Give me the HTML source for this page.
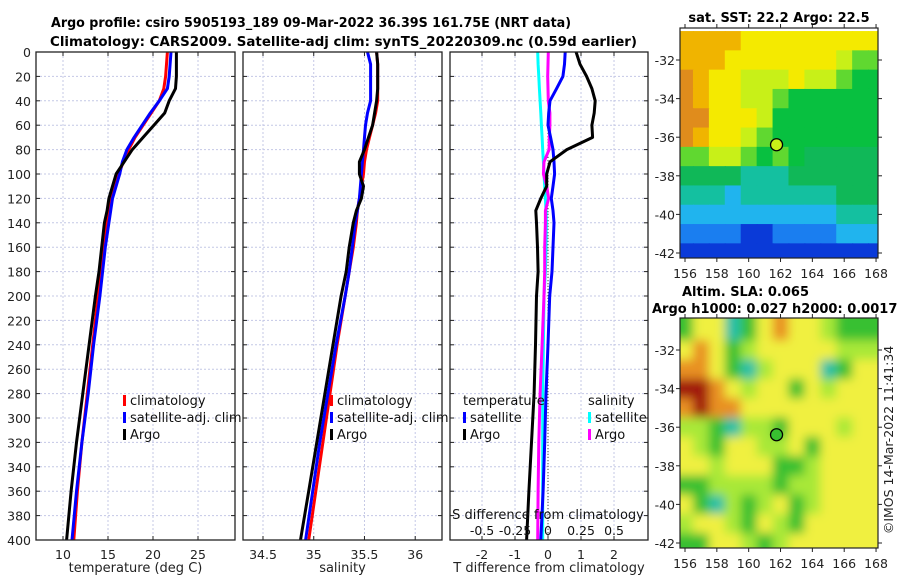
<!DOCTYPE html>
<html><head><meta charset="utf-8">
<style>
html,body{margin:0;padding:0;background:#fff;}
svg{display:block;font-family:"DejaVu Sans","Liberation Sans",sans-serif;}
</style></head>
<body>
<svg id="fig" width="900" height="580" viewBox="0 0 900 580" xmlns="http://www.w3.org/2000/svg">
<defs>
<clipPath id="c1"><rect x="36" y="52" width="199" height="488"/></clipPath>
<clipPath id="c2"><rect x="243" y="52" width="199" height="488"/></clipPath>
<clipPath id="c3"><rect x="450" y="52" width="198" height="488"/></clipPath>
<clipPath id="cm1"><rect x="680" y="28" width="198" height="230"/></clipPath>
<clipPath id="cm2"><rect x="680" y="318" width="198" height="230"/></clipPath>
<filter id="blur" x="-5%" y="-5%" width="110%" height="110%"><feGaussianBlur stdDeviation="5"/></filter>
</defs>
<g font-weight="bold" font-size="13">
<text x="51" y="27" textLength="520" lengthAdjust="spacingAndGlyphs">Argo profile: csiro 5905193_189 09-Mar-2022 36.39S 161.75E (NRT data)</text>
<text x="50" y="46" textLength="587" lengthAdjust="spacingAndGlyphs">Climatology: CARS2009. Satellite-adj clim: synTS_20220309.nc (0.59d earlier)</text>
</g>
<g id="plots"></g>
<g id="maps"></g>
</svg>
<script>
// ---- profile data ----
const depths=[0,10,20,30,40,50,60,70,80,90,100,110,120,130,140,160,180,200,240,280,320,360,400];
const tempClim=[21.6,21.5,21.4,21.2,20.7,19.8,18.9,18.0,17.3,16.7,16.2,15.8,15.4,15.1,14.9,14.5,14.2,13.9,13.3,12.7,12.1,11.6,11.2];
const tempSat=[22.0,21.9,21.8,21.6,20.7,19.7,18.8,17.9,17.1,16.6,16.3,15.9,15.5,15.3,15.1,14.7,14.4,14.1,13.4,12.8,12.1,11.5,11.0];
const tempArgo=[22.6,22.6,22.6,22.5,21.8,21.3,20.1,18.9,17.7,16.8,15.9,15.5,15.1,14.9,14.6,14.3,14.0,13.6,12.9,12.2,11.5,10.9,10.4];
const salClim=[35.62,35.63,35.63,35.63,35.63,35.61,35.58,35.55,35.52,35.50,35.49,35.47,35.45,35.43,35.42,35.39,35.35,35.31,35.23,35.16,35.09,35.02,34.95];
const salSat=[35.53,35.56,35.56,35.56,35.56,35.53,35.51,35.50,35.49,35.48,35.47,35.46,35.45,35.43,35.41,35.38,35.35,35.31,35.22,35.14,35.06,34.99,34.92];
const salArgo=[35.62,35.63,35.63,35.63,35.62,35.60,35.58,35.54,35.50,35.45,35.45,35.49,35.47,35.42,35.39,35.35,35.32,35.27,35.19,35.11,35.03,34.95,34.87];
const tDiffSat=[0.52,0.50,0.45,0.26,0.06,0.02,0.00,0.08,0.15,0.18,0.20,0.15,0.10,0.15,0.18,0.15,0.12,0.05,0.00,-0.06,-0.10,-0.15,-0.22];
const tDiffArgo=[0.85,0.97,1.17,1.33,1.43,1.40,1.33,1.35,0.57,0.06,-0.04,-0.04,-0.22,-0.37,-0.35,-0.32,-0.30,-0.35,-0.38,-0.42,-0.50,-0.58,-0.65];
const sDiffSat=[-0.078,-0.075,-0.07,-0.065,-0.06,-0.055,-0.05,-0.045,-0.04,-0.035,-0.03,-0.025,-0.02,-0.015,-0.013,-0.015,-0.02,-0.03,-0.035,-0.04,-0.04,-0.04,-0.04];
const sDiffArgo=[0.002,0,-0.002,0,0.002,0.014,0.014,0.01,0.008,-0.03,-0.035,-0.01,0.005,-0.02,-0.02,-0.025,-0.025,-0.03,-0.045,-0.06,-0.07,-0.075,-0.078];
const depthTicks=[0,20,40,60,80,100,120,140,160,180,200,220,240,260,280,300,320,340,360,380,400];
const tempTicks=[10,15,20,25];
const salTicks=[34.5,35,35.5,36];
const tDiffTicks=[-2,-1,0,1,2];
const sDiffTicks=[-0.5,-0.25,0,0.25,0.5];
const sDiffTickLabels=["-0.5","-0.25","0","0.25","0.5"];
// ---- map data (1-degree cells, rows lat -31..-42, cols lon 156..168) ----
const mapLats=[-31,-32,-33,-34,-35,-36,-37,-38,-39,-40,-41,-42];
const mapLons=[156,157,158,159,160,161,162,163,164,165,166,167,168];
const sstGrid=[
[8,8,8,8,7,7,7,7,7,7,7,7,7],
[8,8,8,7.5,7,7,7,7,7,7,6,5,5],
[8.5,8,7.5,7,6.5,6,6.5,7,6.5,6,5,4.5,4.5],
[8.5,8,7.5,7,6.5,6,5,4.5,4.5,4.5,4.5,4.5,4.5],
[8.5,8.5,7.5,7,7,6,4.5,4.5,4.5,4.5,4.5,4.5,4.5],
[8.5,8,7,7,6.5,5,4.5,4.5,4.5,4.5,4.5,4.5,4.5],
[5,5,6,6.5,5,4.5,5,4.5,4,4,4,4,4],
[4,4,4,4,3.5,3.5,3.5,4,4,4,4,4,4],
[3.5,3.5,3.5,3,3.5,3.5,3.5,3.5,3.5,3.5,4,4,4],
[3,3,3,3,3,3,3,3,3,3,3.5,3.5,3.5],
[2.5,2.5,2.5,2.5,2,2,2.5,2.5,2.5,2.5,3,3,3],
[1.5,1.5,1.5,1.5,1.5,1.5,2,2,2,2,2,2,2]];
const slaGrid=[
[1,3,3,0,1,3,4,3,3,2,1,1,1],
[3,4,3,1,2,3,3,3,3,3,2,2,2],
[4,4,3,1,0,2,3,3,3,0,1,3,3],
[5,5,4,3,2,3,3,1,3,2,3,3,3],
[4,5,4,4,3,3,3,3,3,3,3,3,3],
[2,2,1,0,2,2,1,3,3,3,2,3,3],
[3,2,1,3,3,2,2,3,1,3,3,3,3],
[3,3,2,3,3,3,1,1,2,3,3,3,3],
[1,1,2,2,2,2,1,2,2,3,3,3,3],
[3,1,0,2,1,2,3,1,2,3,3,3,3],
[2,3,3,2,1,3,2,1,3,3,3,3,3],
[1,1,3,3,2,1,2,3,3,3,3,3,3]];
const latTicks=[-32,-34,-36,-38,-40,-42];
const lonTicks=[156,158,160,162,164,166,168];
const argoLon=161.75, argoLat=-36.39;

const NS='http://www.w3.org/2000/svg';
function mk(tag,attrs,parent,txt){const e=document.createElementNS(NS,tag);for(const k in attrs)e.setAttribute(k,attrs[k]);if(txt!==undefined)e.textContent=txt;parent.appendChild(e);return e;}
const plots=document.getElementById('plots');
const Y0=52,Y1=540;
const yD=d=>Y0+d*(Y1-Y0)/400;

function panel(name,x0,x1,xmin,xmax,ticks,tickLabels,clip,xlabel){
  const g=mk('g',{},plots);
  
  
  const sx=v=>x0+(v-xmin)*(x1-x0)/(xmax-xmin);
  depthTicks.forEach(d=>{const l=mk('line',{x1:x0,x2:x1,y1:yD(d),y2:yD(d),stroke:'#c4c8e6','stroke-width':1,'stroke-dasharray':'2,2'},g);});
  ticks.forEach((t,i)=>{const l=mk('line',{x1:sx(t),x2:sx(t),y1:Y0,y2:Y1,stroke:'#c4c8e6','stroke-width':1,'stroke-dasharray':'2,2'},g);
    const tx=mk('text',{x:sx(t),y:Y1+19,'font-size':12.5,'text-anchor':'middle',fill:'#222'},g,tickLabels?tickLabels[i]:String(t));
    mk('line',{x1:sx(t),x2:sx(t),y1:Y1,y2:Y1-4,stroke:'#222'},g);mk('line',{x1:sx(t),x2:sx(t),y1:Y0,y2:Y0+4,stroke:'#222'},g);});
  depthTicks.forEach(d=>{mk('line',{x1:x0,x2:x0+4,y1:yD(d),y2:yD(d),stroke:'#222'},g);mk('line',{x1:x1,x2:x1-4,y1:yD(d),y2:yD(d),stroke:'#222'},g);});
  const xl=mk('text',{x:(x0+x1)/2,y:572,'font-size':13,'text-anchor':'middle',fill:'#222'},g,xlabel);
  
  const lines=mk('g',{'clip-path':'url(#'+clip+')'},g);
  const fr=mk('rect',{x:x0,y:Y0,width:x1-x0,height:Y1-Y0,fill:'none',stroke:'#222','stroke-width':1.3},g);
  
  return {g,lines,sx};
}
function series(p,vals,color,name,sx,w){
  const pts=vals.map((v,i)=>(sx||p.sx)(v).toFixed(1)+','+yD(depths[i]).toFixed(1)).join(' ');
  const pl=mk('polyline',{points:pts,fill:'none',stroke:color,'stroke-width':w||3,'stroke-linejoin':'round'},p.lines);
  
  
}
function legend(p,x,y,items){
  items.forEach((it,i)=>{
    if(it.color){const r=mk('rect',{x:x,y:y+i*17-5,width:3,height:11,fill:it.color},p.g);}
    const t=mk('text',{x:x+(it.color?7:0),y:y+i*17+5,'font-size':13,fill:'#111'},p.g,it.label);
    
    
  });
}
depthTicks.forEach(d=>{const t=mk('text',{x:31,y:yD(d)+5,'font-size':12.5,'text-anchor':'end',fill:'#222'},plots,String(d));});

const p1=panel('temperature-panel',36,235,7,29.11,tempTicks,null,'c1','temperature (deg C)');
series(p1,tempClim,'#f00','temp-climatology-line');
series(p1,tempSat,'#00f','temp-satellite-line');
series(p1,tempArgo,'#000','temp-argo-line');
legend(p1,123,400,[{color:'#f00',label:'climatology'},{color:'#00f',label:'satellite-adj. clim'},{color:'#000',label:'Argo'}]);

const p2=panel('salinity-panel',243,442,34.303,36.264,salTicks,null,'c2','salinity');
series(p2,salClim,'#f00','sal-climatology-line');
series(p2,salSat,'#00f','sal-satellite-line');
series(p2,salArgo,'#000','sal-argo-line');
legend(p2,330,400,[{color:'#f00',label:'climatology'},{color:'#00f',label:'satellite-adj. clim'},{color:'#000',label:'Argo'}]);

const p3=panel('difference-panel',450,648,-2.97,3.03,tDiffTicks,null,'c3','T difference from climatology');
const zl=mk('line',{x1:p3.sx(0),x2:p3.sx(0),y1:Y0,y2:Y1,stroke:'#444','stroke-width':1,'stroke-dasharray':'1,2'},p3.lines);

const sxS=v=>p3.sx(v*4);
series(p3,sDiffSat,'#00ffff','sdiff-satellite-line',sxS);
series(p3,sDiffArgo,'#ff00ff','sdiff-argo-line',sxS);
series(p3,tDiffSat,'#00f','tdiff-satellite-line');
series(p3,tDiffArgo,'#000','tdiff-argo-line');
legend(p3,463,400,[{label:'temperature'},{color:'#00f',label:'satellite'},{color:'#000',label:'Argo'}]);
legend(p3,588,400,[{label:'salinity'},{color:'#00ffff',label:'satellite'},{color:'#ff00ff',label:'Argo'}]);
const st=mk('text',{x:548,y:519,'font-size':13,'text-anchor':'middle',fill:'#111'},p3.g,'S difference from climatology');

sDiffTicks.forEach((s,i)=>{const t=mk('text',{x:sxS(s),y:535,'font-size':12.5,'text-anchor':'middle',fill:'#111'},p3.g,sDiffTickLabels[i]);});

// ---- maps ----
const maps=document.getElementById('maps');
const lonX=lon=>685+(lon-156)*15.92;
function sstColor(v){const stops=[[0,'#00008a'],[1.5,'#0a3ad8'],[2.5,'#1a7ef0'],[3,'#20b4ee'],[3.5,'#14c0a0'],[4,'#10b858'],[4.5,'#08c040'],[5,'#60d830'],[6,'#c8f018'],[7,'#f4ea00'],[8,'#f0b400'],[8.5,'#e08c1c']];
  let c=stops[0][1];for(const s of stops){if(v>=s[0])c=s[1];}return c;}
const slaCols=['#20c0a8','#38c030','#a8e838','#f0f040','#e89020','#a01808'];
function drawMap(name,top,grid,colorFn,clip,blur,fillCircle){
  const g=mk('g',{},maps);
  
  
  const latY=lat=>top+32+(-32-lat)*19.3;
  const cg=mk('g',{'clip-path':'url(#'+clip+')'},g);
  const inner=mk('g',blur?{filter:'url(#blur)'}:{},cg);
  mapLats.forEach((lat,r)=>mapLons.forEach((lon,c)=>{
    const cell=mk('rect',{x:lonX(lon-0.5)-(blur&&c===0?20:0),y:latY(lat+0.5)-(blur&&r===0?20:0),width:15.92+1+(blur&&(c===0||c===mapLons.length-1)?20:0),height:19.3+1+(blur&&(r===0||r===mapLats.length-1)?20:0),fill:colorFn(grid[r][c])},inner);
    
    
  }));
  const circ=mk('circle',{cx:lonX(argoLon),cy:latY(argoLat),r:6,fill:fillCircle,stroke:'#000','stroke-width':1.3},g);
  
  const fr=mk('rect',{x:680,y:top,width:198,height:230,fill:'none',stroke:'#222','stroke-width':1.2},g);
  
  latTicks.forEach(l=>{mk('line',{x1:676,x2:680,y1:latY(l),y2:latY(l),stroke:'#222'},g);mk('line',{x1:878,x2:882,y1:latY(l),y2:latY(l),stroke:'#222'},g);
    const t=mk('text',{x:675,y:latY(l)+5,'font-size':12.5,'text-anchor':'end',fill:'#222'},g,String(l));});
  lonTicks.forEach(l=>{mk('line',{x1:lonX(l),x2:lonX(l),y1:top+230,y2:top+234,stroke:'#222'},g);mk('line',{x1:lonX(l),x2:lonX(l),y1:top,y2:top-4,stroke:'#222'},g);
    const t=mk('text',{x:lonX(l),y:top+250,'font-size':12.5,'text-anchor':'middle',fill:'#222'},g,String(l));});
}
drawMap('sst-map',28,sstGrid,sstColor,'cm1',false,'#c8f018');
drawMap('sla-map',318,slaGrid,v=>slaCols[v],'cm2',true,'#38c030');
const t1=mk('text',{x:779,y:22,'font-size':13,'font-weight':'bold','text-anchor':'middle'},maps,'sat. SST: 22.2 Argo: 22.5');

const t2=mk('text',{x:682,y:296,'font-size':13,'font-weight':'bold'},maps,'Altim. SLA: 0.065');

const t3=mk('text',{x:652,y:313,'font-size':13,'font-weight':'bold'},maps,'Argo h1000: 0.027 h2000: 0.0017');

const t4=mk('text',{x:0,y:0,'font-size':12.5,'text-anchor':'middle',fill:'#222',transform:'translate(893,440) rotate(-90)'},maps,'©IMOS 14-Mar-2022 11:41:34');

</script>
</body></html>
